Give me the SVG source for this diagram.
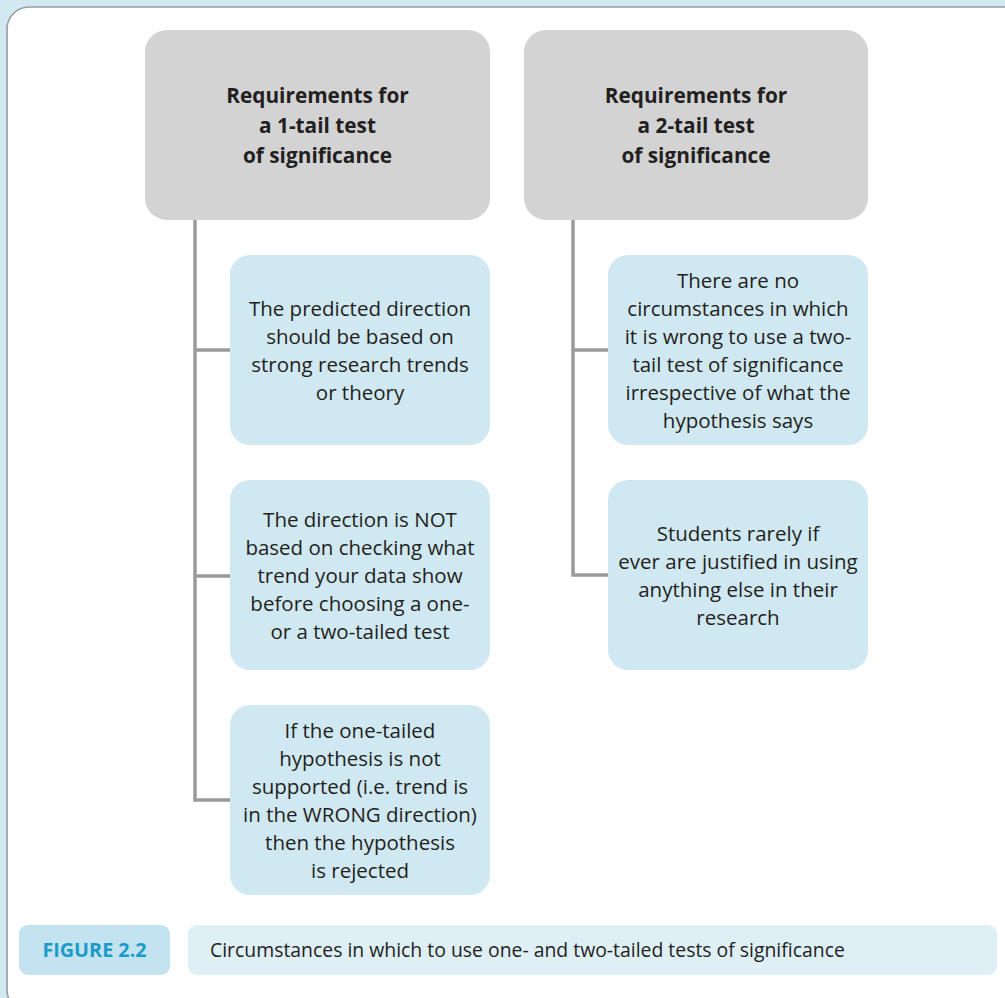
<svg xmlns="http://www.w3.org/2000/svg" width="1005" height="998" viewBox="0 0 1005 998">
  <style>
    .head { fill: #d3d3d4; }
    .item { fill: #d0e8f1; }
    .conn { stroke: #9a9a9c; stroke-width: 3.5; fill: none; }
    text { font-family: "Open Sans", "Noto Sans", sans-serif; fill: #231f20; text-anchor: middle; }
    .ht { font-size: 20.8px; font-weight: bold; }
    .it { font-size: 20.5px; }
    .fig { font-size: 19.8px; font-weight: bold; fill: #1a9bc9; }
    .cap { font-size: 19.4px; text-anchor: start; }
  </style>

  <!-- page background and panel -->
  <rect x="0" y="0" width="1005" height="998" fill="#d2e8f2"/>
  <rect x="7" y="7" width="1025" height="1005" rx="22" fill="#ffffff" stroke="#959ea3" stroke-width="1.6"/>

  <!-- connectors -->
  <g id="connectors">
    <path class="conn" d="M195 220 V800 H230 M195 350 H230 M195 576 H230"/>
    <path class="conn" d="M573 220 V575 H608 M573 350 H608"/>
  </g>

  <g id="head-1tail">
    <rect class="head" x="145" y="30" width="345" height="190" rx="22"/>
    <text class="ht" x="317.5" y="103">Requirements for</text>
    <text class="ht" x="317.5" y="133">a 1-tail test</text>
    <text class="ht" x="317.5" y="163">of significance</text>
  </g>

  <g id="head-2tail">
    <rect class="head" x="524" y="30" width="344" height="190" rx="22"/>
    <text class="ht" x="696" y="103">Requirements for</text>
    <text class="ht" x="696" y="133">a 2-tail test</text>
    <text class="ht" x="696" y="163">of significance</text>
  </g>

  <g id="one-a">
    <rect class="item" x="230" y="255" width="260" height="190" rx="20"/>
    <text class="it" x="360" y="316">The predicted direction</text>
    <text class="it" x="360" y="344">should be based on</text>
    <text class="it" x="360" y="372">strong research trends</text>
    <text class="it" x="360" y="400">or theory</text>
  </g>

  <g id="one-b">
    <rect class="item" x="230" y="480" width="260" height="190" rx="20"/>
    <text class="it" x="360" y="527">The direction is NOT</text>
    <text class="it" x="360" y="555">based on checking what</text>
    <text class="it" x="360" y="583">trend your data show</text>
    <text class="it" x="360" y="611">before choosing a one-</text>
    <text class="it" x="360" y="639">or a two-tailed test</text>
  </g>

  <g id="one-c">
    <rect class="item" x="230" y="705" width="260" height="190" rx="20"/>
    <text class="it" x="360" y="738">If the one-tailed</text>
    <text class="it" x="360" y="766">hypothesis is not</text>
    <text class="it" x="360" y="794">supported (i.e. trend is</text>
    <text class="it" x="360" y="822">in the WRONG direction)</text>
    <text class="it" x="360" y="850">then the hypothesis</text>
    <text class="it" x="360" y="878">is rejected</text>
  </g>

  <g id="two-a">
    <rect class="item" x="608" y="255" width="260" height="190" rx="20"/>
    <text class="it" x="738" y="288">There are no</text>
    <text class="it" x="738" y="316">circumstances in which</text>
    <text class="it" x="738" y="344">it is wrong to use a two-</text>
    <text class="it" x="738" y="372">tail test of significance</text>
    <text class="it" x="738" y="400">irrespective of what the</text>
    <text class="it" x="738" y="428">hypothesis says</text>
  </g>

  <g id="two-b">
    <rect class="item" x="608" y="480" width="260" height="190" rx="20"/>
    <text class="it" x="738" y="541">Students rarely if</text>
    <text class="it" x="738" y="569">ever are justified in using</text>
    <text class="it" x="738" y="597">anything else in their</text>
    <text class="it" x="738" y="625">research</text>
  </g>

  <!-- caption -->
  <g id="caption">
    <rect x="19" y="925" width="151" height="50" rx="9" fill="#c2e3ef"/>
    <text class="fig" x="94.5" y="957">FIGURE 2.2</text>
    <rect x="188" y="925" width="809" height="50" rx="9" fill="#deeff6"/>
    <text class="cap" x="210" y="957">Circumstances in which to use one- and two-tailed tests of significance</text>
  </g>
</svg>
